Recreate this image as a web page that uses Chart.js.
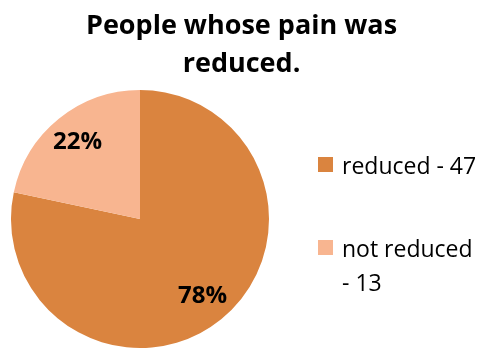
<!DOCTYPE html>
<html>
<head>
<meta charset="utf-8">
<script src="https://cdn.jsdelivr.net/npm/chart.js@4/dist/chart.umd.min.js"></script>
<style>
  html, body { margin: 0; padding: 0; background: #fff; }
  #wrap { position: relative; width: 483px; height: 352px; }
  #legend { position: absolute; left: 318px; top: 148px; font-family: "Open Sans", sans-serif; font-size: 23px; color: #000; }
  .item { display: flex; align-items: flex-start; margin-bottom: 49px; }
  .box { width: 15px; height: 15px; margin-top: 9px; margin-right: 9px; flex: none; }
  .txt { width: 137px; line-height: 34px; }
</style>
</head>
<body>
<div id="wrap">
  <canvas id="chart" width="483" height="352"></canvas>
  <div id="legend"></div>
</div>
<script>
const categories = ["reduced", "not reduced"];
const counts = [47, 13];
const percentLabels = ["78%", "22%"];
const sliceColors = ["#DA843F", "#F8B590"];
const titleLines = ["People whose pain was", "reduced."];

// titre centré sur toute la largeur du canvas
const centeredTitle = {
    id: 'centeredTitle',
    afterDraw(chart) {
        const ctx = chart.ctx;
        ctx.save();
        ctx.font = "bold 27px 'Open Sans', sans-serif";
        ctx.fillStyle = "#000";
        ctx.textAlign = "center";
        ctx.textBaseline = "alphabetic";
        titleLines.forEach((line, i) => {
            ctx.fillText(line, chart.width / 2, 34 + i * 38);
        });
        ctx.restore();
    }
};

// étiquettes de pourcentage dans les parts
const sliceLabels = {
    id: 'sliceLabels',
    afterDatasetsDraw(chart) {
        const ctx = chart.ctx;
        const meta = chart.getDatasetMeta(0);
        ctx.save();
        ctx.font = "bold 24px 'Open Sans', sans-serif";
        ctx.fillStyle = "#000";
        ctx.textAlign = "center";
        ctx.textBaseline = "middle";
        meta.data.forEach((arc, i) => {
            const mid = (arc.startAngle + arc.endAngle) / 2;
            const r = arc.outerRadius * 0.77;
            ctx.fillText(percentLabels[i], arc.x + Math.cos(mid) * r, arc.y + Math.sin(mid) * r);
        });
        ctx.restore();
    }
};

const ctx = document.getElementById('chart').getContext('2d');
const chart = new Chart(ctx, {
    type: 'pie',
    data: {
        labels: categories,
        datasets: [{
            data: counts,
            backgroundColor: sliceColors,
            borderWidth: 0
        }]
    },
    options: {
        responsive: false,
        animation: false,
        layout: { padding: { left: 11, right: 214, top: 90, bottom: 4 } },
        plugins: {
            legend: { display: false },
            tooltip: { enabled: false },
            title: { display: false }
        }
    },
    plugins: [sliceLabels, centeredTitle]
});

// légende HTML à droite
const legend = document.getElementById('legend');
categories.forEach((c, i) => {
    const item = document.createElement('div');
    item.className = 'item';
    item.innerHTML = `<span class="box" style="background:${sliceColors[i]}"></span><span class="txt">${c} - ${counts[i]}</span>`;
    legend.appendChild(item);
});
</script>
</body>
</html>
